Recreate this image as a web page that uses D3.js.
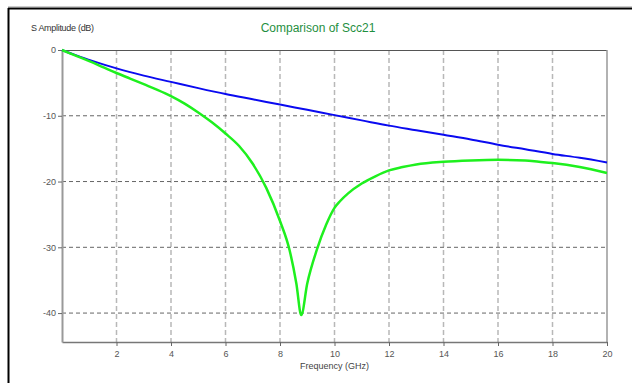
<!DOCTYPE html>
<html>
<head>
<meta charset="utf-8">
<script src="https://cdn.jsdelivr.net/npm/d3@7"></script>
<style>
  body { margin: 0; background: #fff; }
  svg { display: block; font-family: "Liberation Sans", Arial, sans-serif; }
</style>
</head>
<body>
<div id="chart-container"></div>
<script>
// values
let xTicks = [2, 4, 6, 8, 10, 12, 14, 16, 18, 20],
    yTicks = [0, -10, -20, -30, -40];

let blueFreq = [0, 0.5, 1, 2, 3, 4, 5, 6, 7, 8, 9, 10, 11, 12, 13, 14, 15, 16, 17, 18, 19, 20],
    blueAmp  = [0, -0.8, -1.5, -2.8, -3.9, -4.85, -5.8, -6.7, -7.5, -8.3, -9.1, -9.9, -10.7, -11.5, -12.2, -12.9, -13.6, -14.4, -15.1, -15.8, -16.4, -17.1];

let greenFreq = [0, 0.5, 1, 1.5, 2, 2.5, 3, 3.5, 4, 4.5, 5, 5.5, 6, 6.5, 7, 7.5, 8, 8.35, 8.6, 8.78, 9.0, 9.35, 9.7, 10, 10.2, 10.5, 11, 11.5, 12, 12.5, 13, 14, 15, 16, 17, 17.5, 18, 19, 20],
    greenAmp  = [0, -0.85, -1.7, -2.6, -3.5, -4.35, -5.2, -6.05, -7.0, -8.15, -9.5, -11.0, -12.7, -14.6, -17.3, -21.0, -26.0, -30.4, -35.5, -40.3, -35.5, -30.4, -26.5, -24.0, -23.0, -21.8, -20.3, -19.2, -18.3, -17.8, -17.4, -17.0, -16.8, -16.7, -16.8, -17.0, -17.2, -17.8, -18.7];

let svg = d3.select("#chart-container").append("svg").attr("width", 632).attr("height", 383),
    margin = { top: 50, right: 25, bottom: 41, left: 62 },
    width = 632 - margin.left - margin.right,
    height = 383 - margin.top - margin.bottom;

// outer frame
svg.append("line").attr("x1", 8).attr("x2", 632).attr("y1", 6.5).attr("y2", 6.5).attr("stroke", "#ccc");
svg.append("line").attr("x1", 8).attr("x2", 632).attr("y1", 8.5).attr("y2", 8.5).attr("stroke", "#000").attr("stroke-width", 2);
svg.append("line").attr("x1", 8.5).attr("x2", 8.5).attr("y1", 8).attr("y2", 383).attr("stroke", "#000").attr("stroke-width", 2);

let g = svg.append("g").attr("transform", "translate(" + margin.left + "," + margin.top + ")");

let x = d3.scaleLinear().domain([0, 20]).range([0, width]),
    y = d3.scaleLinear().domain([-44.4, 0]).range([height, 0]);

// grid
g.selectAll(".vgrid").data(xTicks.slice(0, -1)).enter().append("line")
    .attr("x1", d => x(d)).attr("x2", d => x(d))
    .attr("y1", 0).attr("y2", height)
    .attr("stroke", "#b8b8b8").attr("stroke-width", 1.5).attr("stroke-dasharray", "5,3");

g.selectAll(".hgrid").data(yTicks.slice(1)).enter().append("line")
    .attr("x1", 0).attr("x2", width)
    .attr("y1", d => y(d)).attr("y2", d => y(d))
    .attr("stroke", "#666").attr("stroke-width", 1).attr("stroke-dasharray", "4,3");

// plot borders
g.append("line").attr("x1", 0).attr("x2", width).attr("y1", 0.5).attr("y2", 0.5).attr("stroke", "#555");
g.append("line").attr("x1", width).attr("x2", width).attr("y1", 0).attr("y2", height).attr("stroke", "#999").attr("stroke-width", 1.5);

// axes (plain hyphen for negatives, like the original)
let fmt = d => String(d);

g.append("g")
    .attr("transform", "translate(0," + height + ")")
    .call(d3.axisBottom(x).tickValues(xTicks).tickFormat(fmt).tickSize(4).tickPadding(5).tickSizeOuter(0))
    .call(a => a.select(".domain").attr("stroke", "#777").attr("stroke-width", 1.5))
    .call(a => a.selectAll(".tick line").attr("stroke", "#666"))
    .call(a => a.selectAll("text").attr("fill", "#555").attr("font-size", 9).attr("font-family", "Liberation Sans, Arial"));

g.append("g")
    .call(d3.axisLeft(y).tickValues(yTicks).tickFormat(fmt).tickSize(4).tickPadding(2).tickSizeOuter(0))
    .call(a => a.select(".domain").attr("stroke", "#999").attr("stroke-width", 2))
    .call(a => a.selectAll(".tick line").attr("stroke", "#666"))
    .call(a => a.selectAll("text").attr("fill", "#555").attr("font-size", 9).attr("font-family", "Liberation Sans, Arial"));

// curves
let line = d3.line()
    .x(d => x(d[0]))
    .y(d => y(d[1]))
    .curve(d3.curveMonotoneX);

g.append("path")
    .datum(blueFreq.map((f, i) => [f, blueAmp[i]]))
    .attr("fill", "none").attr("stroke", "#0a0af0").attr("stroke-width", 2)
    .attr("d", line);

g.append("path")
    .datum(greenFreq.map((f, i) => [f, greenAmp[i]]))
    .attr("fill", "none").attr("stroke", "#1ef01e").attr("stroke-width", 2.5)
    .attr("d", line);

// labels
svg.append("text")
    .attr("x", 318).attr("y", 32)
    .attr("text-anchor", "middle")
    .attr("fill", "#1f8f3f").attr("font-size", 12)
    .text("Comparison of Scc21");

svg.append("text")
    .attr("x", 31).attr("y", 31)
    .attr("fill", "#333").attr("font-size", 9)
    .attr("letter-spacing", -0.3)
    .text("S Amplitude (dB)");

svg.append("text")
    .attr("x", margin.left + width / 2).attr("y", 369)
    .attr("text-anchor", "middle")
    .attr("fill", "#444").attr("font-size", 9)
    .text("Frequency (GHz)");
</script>
</body>
</html>
